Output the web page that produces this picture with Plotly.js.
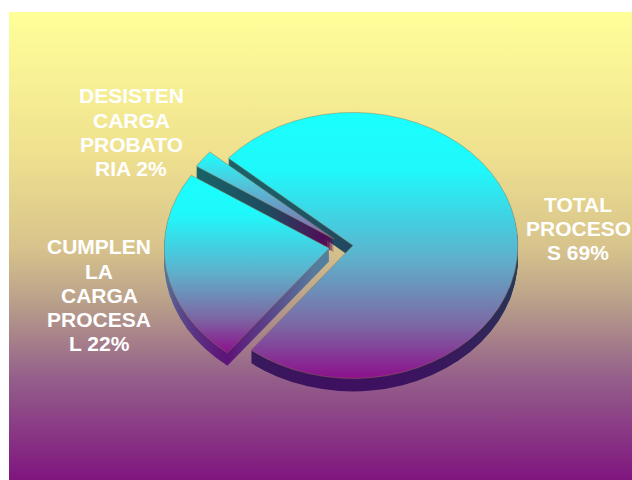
<!DOCTYPE html>
<html><head><meta charset="utf-8">
<script src="https://cdn.plot.ly/plotly-3.0.1.min.js"></script>
<style>
html,body{margin:0;padding:0;background:#fff;overflow:hidden}
#bg{position:absolute;left:9px;top:12px;width:623px;height:468px;
background:linear-gradient(to bottom,#ffff99 0%,#efe18f 30%,#d8c48c 50%,#b9a08a 62%,#94608a 78%,#7f157f 100%)}
#chart{position:absolute;left:0;top:0;width:632px;height:480px}
</style></head><body>
<div id="bg"></div><div id="chart"></div>
<script>
const categories = ["TOTAL PROCESOS","CUMPLEN LA CARGA PROCESAL","DESISTEN CARGA PROBATORIA"];
const values = [69,22,2];
const labelLines = [
  ["TOTAL","PROCESO","S 69%"],
  ["CUMPLEN","LA","CARGA","PROCESA","L 22%"],
  ["DESISTEN","CARGA","PROBATO","RIA 2%"]
];
const labelX = [578,99,131];
const labelY = [204,247,96];
const lineGap = 24.2;
const pulls = [0.045,0.10,0.085];
const W=632,H=480,cx=345.5,cy=246,R=165,k=0.806,depth=13;
const size=R*(1+Math.max(...pulls));

function pieTrace(off){
  const yc=cy+off/k;
  return {type:'pie',labels:categories,values:values,sort:false,direction:'clockwise',
    rotation:-49,pull:pulls,textinfo:'none',hoverinfo:'skip',showlegend:false,
    marker:{colors:['#1affff','#1affff','#1affff'],
      line:{color:off===0?'rgba(150,120,70,0.7)':'rgba(0,0,0,0)',width:off===0?0.7:0}},
    domain:{x:[(cx-size)/W,(cx+size)/W],y:[1-(yc+size)/H,1-(yc-size)/H]}};
}
const traces=[];
for(let d=depth;d>=0;d--)traces.push(pieTrace(d));

const annotations=[];
labelLines.forEach((lines,i)=>lines.forEach((t,j)=>annotations.push({
  text:t,xref:'paper',yref:'paper',x:labelX[i]/W,y:1-(labelY[i]+j*lineGap)/H,
  xanchor:'center',yanchor:'middle',showarrow:false,
  font:{family:'Liberation Sans, Arial, sans-serif',size:21,color:'#ffffff',weight:700}
})));

const layout={width:W,height:H,margin:{l:0,r:0,t:0,b:0},paper_bgcolor:'rgba(0,0,0,0)',
  plot_bgcolor:'rgba(0,0,0,0)',annotations:annotations,showlegend:false};

function addGrad(defs,id,stops){
  const ns='http://www.w3.org/2000/svg';
  const g=document.createElementNS(ns,'linearGradient');
  g.setAttribute('id',id);g.setAttribute('x1','0');g.setAttribute('y1','0');g.setAttribute('x2','0');g.setAttribute('y2','1');
  stops.forEach(s=>{const e=document.createElementNS(ns,'stop');e.setAttribute('offset',s[0]);e.setAttribute('stop-color',s[1]);g.appendChild(e);});
  defs.appendChild(g);
}
function finish(gd){
  const svg=gd.querySelector('svg.main-svg');
  const ns='http://www.w3.org/2000/svg';
  const defs=svg.querySelector('defs')||svg.insertBefore(document.createElementNS(ns,'defs'),svg.firstChild);
  const top=[[0,'#1affff'],[0.22,'#1ff8fb'],[0.55,'#5fb0cc'],[0.8,'#7c68a4'],[1,'#8c108c']];
  addGrad(defs,'top0',top);addGrad(defs,'top1',top);
  addGrad(defs,'top2',[[0,'#1affff'],[0.35,'#50c8dc'],[1,'#8a60a8']]);
  addGrad(defs,'side0',[[0,'#176c6c'],[0.3,'#1b5c68'],[0.7,'#2b2f58'],[1,'#3e1060']]);
  addGrad(defs,'side1',[[0,'#3f9fb0'],[0.5,'#567a9c'],[1,'#5e1278']]);
  addGrad(defs,'side2',[[0,'#176c6c'],[0.6,'#1f4a60'],[1,'#5a0055']]);
  const tr=gd.querySelectorAll('.pielayer g.trace');
  tr.forEach((t,ti)=>{
    const isTop=ti===tr.length-1;
    t.querySelectorAll('g.slice').forEach((s,si)=>{
      const p=s.querySelector('path.surface');
      p.style.fill='url(#'+(isTop?'top':'side')+si+')';
    });
  });
  gd.querySelector('.pielayer').setAttribute('transform',
    'translate('+cx+' '+cy+') scale(1 '+k+') translate('+(-cx)+' '+(-cy)+')');
}
Plotly.newPlot('chart',traces,layout,{staticPlot:true,displayModeBar:false}).then(finish);
</script>
</body></html>
